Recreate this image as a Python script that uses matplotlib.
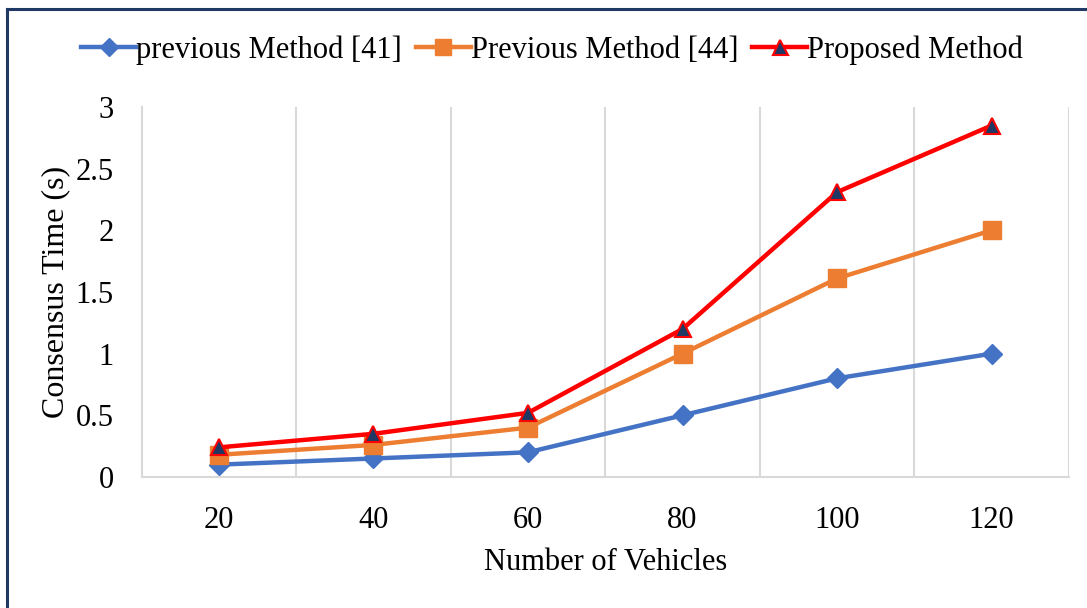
import matplotlib
matplotlib.use("Agg")
import matplotlib.pyplot as plt
from matplotlib.lines import Line2D

vehicles = ["20", "40", "60", "80", "100", "120"]
method_41 = [0.10, 0.15, 0.20, 0.50, 0.80, 1.00]
method_44 = [0.18, 0.26, 0.40, 1.00, 1.61, 2.00]
proposed = [0.24, 0.35, 0.52, 1.20, 2.31, 2.85]

plt.rcParams["font.family"] = ["Liberation Serif", "DejaVu Serif"]

fig = plt.figure(figsize=(10.87, 6.08), dpi=100)
ax = fig.add_axes([0.1302, 0.2155, 0.8532, 0.6085])

x = list(range(len(vehicles)))
ax.plot(x, method_41, color="#4472C4", lw=3.2, marker="D", ms=10,
        mfc="#4472C4", mec="#4472C4", label="previous Method [41]", zorder=3)
ax.plot(x, method_44, color="#ED7D31", lw=3.2, marker="s", ms=13,
        mfc="#ED7D31", mec="#ED7D31", label="Previous Method [44]", zorder=4)
ax.plot(x, proposed, color="#FF0000", lw=3.2, marker="^", ms=12,
        mfc="#1F3864", mec="#FF0000", mew=1.5, label="Proposed Method", zorder=5)

ax.set_xlim(-0.5, len(vehicles) - 0.5)
ax.set_ylim(0, 3)
ax.set_yticks([0, 0.5, 1, 1.5, 2, 2.5, 3])
ax.set_yticklabels(["0", "0.5", "1", "1.5", "2", "2.5", "3"])
ax.set_xticks(x)
ax.set_xticklabels(vehicles)

# vertical gridlines at category boundaries
for b in range(len(vehicles)):
    ax.axvline(b + 0.5, color="#D9D9D9", lw=1.5, zorder=1)

for s in ["top", "right"]:
    ax.spines[s].set_visible(False)
for s in ["left", "bottom"]:
    ax.spines[s].set_color("#D9D9D9")
    ax.spines[s].set_linewidth(1.5)

ax.tick_params(axis="both", length=0, labelsize=22, colors="#000000")
ax.tick_params(axis="x", pad=21)
ax.tick_params(axis="y", pad=20)

ax.set_xlabel("Number of Vehicles", fontsize=22, labelpad=9)
ax.set_ylabel("Consensus Time (s)", fontsize=23, labelpad=4)

fig.legend(loc="center", bbox_to_anchor=(0.508, 0.918), ncol=3, frameon=False,
           fontsize=22, handlelength=1.8, handletextpad=0.0, columnspacing=0.45,
           markerscale=0.9)

# outer frame (top and left edges)
fig.add_artist(Line2D([0.0065, 1.0], [0.985, 0.985], transform=fig.transFigure,
                      color="#1F3864", lw=2.2))
fig.add_artist(Line2D([0.0065, 0.0065], [0.0, 0.985], transform=fig.transFigure,
                      color="#1F3864", lw=2.2))

fig.savefig("out.png", dpi=100)
